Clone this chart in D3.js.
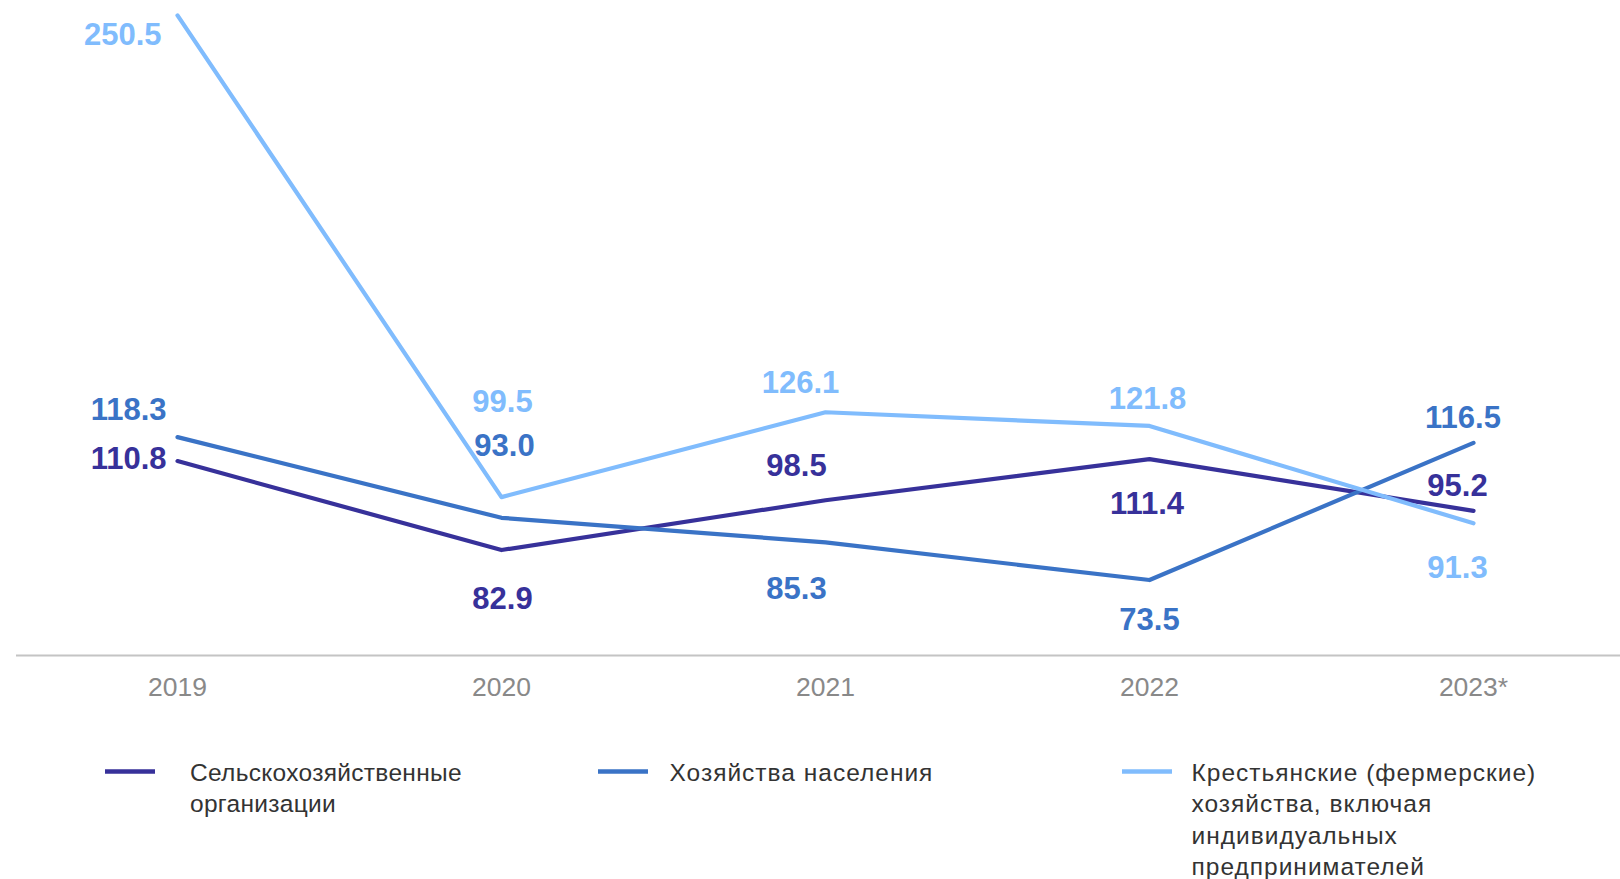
<!DOCTYPE html>
<html>
<head>
<meta charset="utf-8">
<script src="https://cdn.jsdelivr.net/npm/d3@7"></script>
<style>
  html, body { margin: 0; padding: 0; background: #fff; }
  svg { display: block; }
</style>
</head>
<body>
<svg id="chart" width="1620" height="879"></svg>
<script>
// ---- data ----
const years = ["2019", "2020", "2021", "2022", "2023*"];
const seriesNames = [
  "Сельскохозяйственные организации",
  "Хозяйства населения",
  "Крестьянские (фермерские) хозяйства, включая индивидуальных предпринимателей"
];
const agriOrgs   = [110.8, 82.9, 98.5, 111.4, 95.2];
const households = [118.3, 93.0, 85.3, 73.5, 116.5];
const farms      = [250.5, 99.5, 126.1, 121.8, 91.3];

// legend text lines (wrapping as in the original)
const legendLines = [
  ["Сельскохозяйственные", "организации"],
  ["Хозяйства населения"],
  ["Крестьянские (фермерские)", "хозяйства, включая", "индивидуальных", "предпринимателей"]
];

// ---- styling / layout config ----
const colors = ["#37319a", "#3a73c6", "#80bcfd"];
// label placement relative to point: [dx, dy(baseline), anchor]
const labelPlacement = [
  [[-11, 7.5, "end"], [1, 59, "middle"], [-29, -24, "middle"], [-2.5, 55, "middle"], [-16, -14.5, "middle"]],
  [[-11, -17, "end"], [3, -61.5, "middle"], [-29, 56.5, "middle"], [0, 49.5, "middle"], [-10.5, -14.5, "middle"]],
  [[-16, 30, "end"], [1, -85, "middle"], [-25, -19, "middle"], [-2, -16.5, "middle"], [-16, 54.5, "middle"]]
];
const legendSwatchX = [105, 598, 1122];
const legendTextX = [190, 669.5, 1191.5];
const legendSpacing = [0.3, 1, 1];
const FONT = "'Liberation Sans', Arial, Helvetica, sans-serif";

const series = [agriOrgs, households, farms];

const svg = d3.select("#chart");

const x = d3.scaleBand().domain(years).range([15.5, 1635.5]).padding(0);
const xc = d => x(d) + x.bandwidth() / 2;
const y = d3.scaleLinear().domain([50, 250]).range([655, 17]);

// axis
const axis = svg.append("g")
  .attr("transform", "translate(0,655)")
  .call(d3.axisBottom(x).tickSize(0).tickSizeOuter(0));
axis.select(".domain").attr("stroke", "#c4c4c4").attr("stroke-width", 2);
axis.selectAll(".tick text")
  .attr("y", 40.5).attr("dy", 0)
  .attr("fill", "#898989")
  .style("font-family", FONT)
  .style("font-size", "26.5px");

// lines
const line = d3.line()
  .x((d, i) => xc(years[i]))
  .y(d => y(d));

series.forEach((vals, si) => {
  svg.append("path")
    .datum(vals)
    .attr("d", line)
    .attr("fill", "none")
    .attr("stroke", colors[si])
    .attr("stroke-width", 4.2)
    .attr("stroke-linecap", "round")
    .attr("stroke-linejoin", "round");
});

// labels
series.forEach((vals, si) => {
  svg.append("g").selectAll("text")
    .data(vals)
    .join("text")
    .attr("x", (d, i) => xc(years[i]) + labelPlacement[si][i][0])
    .attr("y", (d, i) => y(d) + labelPlacement[si][i][1])
    .attr("text-anchor", (d, i) => labelPlacement[si][i][2])
    .attr("fill", colors[si])
    .style("font-family", FONT)
    .style("font-weight", "bold")
    .style("font-size", "31px")
    .text(d => d.toFixed(1));
});

// legend
seriesNames.forEach((name, si) => {
  const g = svg.append("g");
  g.append("line")
    .attr("x1", legendSwatchX[si]).attr("x2", legendSwatchX[si] + 50)
    .attr("y1", 771.5).attr("y2", 771.5)
    .attr("stroke", colors[si]).attr("stroke-width", 4.5);
  g.append("text")
    .attr("fill", "#333333")
    .style("font-family", FONT)
    .style("font-size", "24.5px")
    .style("letter-spacing", legendSpacing[si] + "px")
    .selectAll("tspan")
    .data(legendLines[si])
    .join("tspan")
    .attr("x", legendTextX[si])
    .attr("y", (d, i) => 781 + i * 31.3)
    .text(d => d);
});
</script>
</body>
</html>
